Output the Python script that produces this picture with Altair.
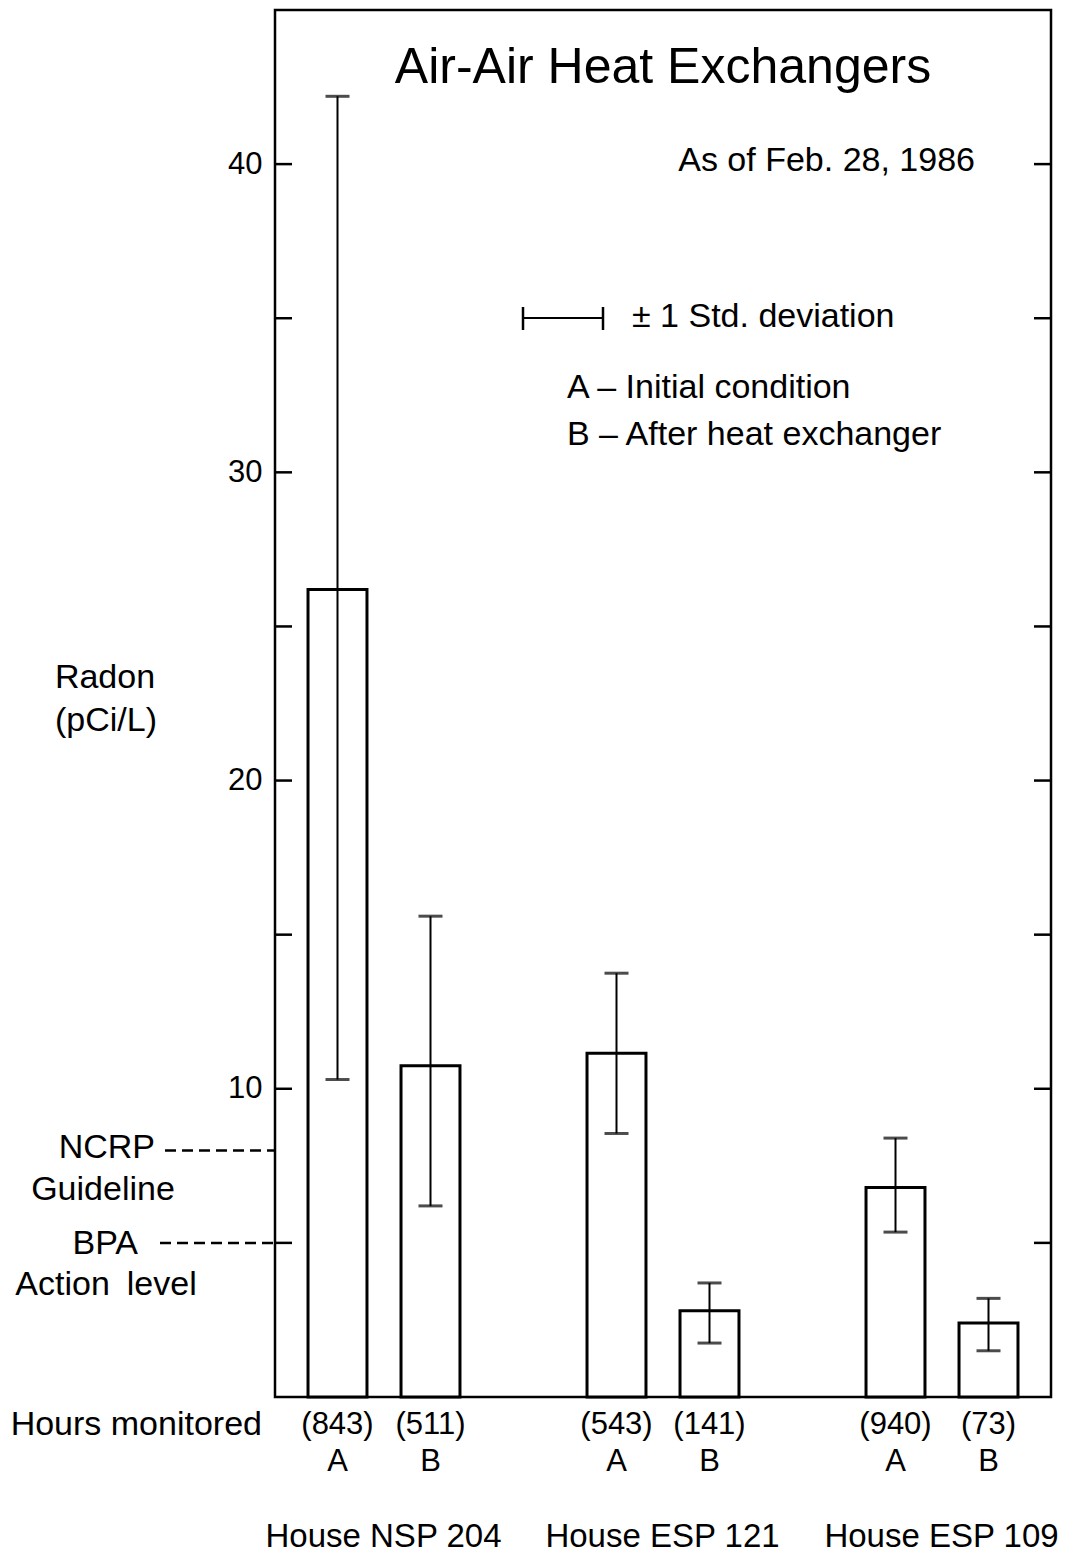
import altair as alt
import pandas as pd

FONT = "Liberation Sans"

# ---- data ----
slots = ["NSP 204 A", "NSP 204 B", "gap 1", "ESP 121 A", "ESP 121 B", "gap 2", "ESP 109 A", "ESP 109 B"]
bar_slots = ["NSP 204 A", "NSP 204 B", "ESP 121 A", "ESP 121 B", "ESP 109 A", "ESP 109 B"]
condition = ["A", "B", "A", "B", "A", "B"]
radon_mean = [26.2, 10.75, 11.15, 2.8, 6.8, 2.4]
radon_lo = [10.3, 6.2, 8.55, 1.75, 5.35, 1.5]
radon_hi = [42.2, 15.6, 13.75, 3.7, 8.4, 3.2]
hours = ["(843)", "(511)", "(543)", "(141)", "(940)", "(73)"]
houses = ["House NSP 204", "House ESP 121", "House ESP 109"]
house_anchor = ["NSP 204 A", "ESP 121 A", "ESP 109 A"]
tick_values = [5, 10, 15, 20, 25, 30, 35, 40]
label_values = [10, 20, 30, 40]
ncrp_level = 8
bpa_level = 5

df = pd.DataFrame({"slot": bar_slots, "cond": condition, "mean": radon_mean,
                   "lo": radon_lo, "hi": radon_hi, "hours": hours})
hdf = pd.DataFrame({"house": houses, "slot": house_anchor})
tdf = pd.DataFrame({"v": tick_values})
one = pd.DataFrame({"k": [0]})

W, H = 776, 1387

xscale = alt.Scale(domain=slots, paddingInner=0.366, paddingOuter=0.355)
yscale = alt.Scale(domain=[0, 45], nice=False, zero=True)

def X():
    return alt.X("slot:N", scale=xscale, axis=None)

yaxis = alt.Axis(values=label_values, ticks=False, domain=False, grid=False,
                 labelFontSize=31, labelPadding=13, labelColor="black",
                 labelFont=FONT, title=None)

bars = alt.Chart(df).mark_bar(fill="white", stroke="black", strokeWidth=3).encode(
    x=X(), y=alt.Y("mean:Q", scale=yscale, axis=yaxis))

err = alt.Chart(df).mark_rule(color="black", strokeWidth=2).encode(
    x=X(), y=alt.Y("lo:Q", scale=yscale), y2="hi:Q")
cap_lo = alt.Chart(df).mark_tick(color="black", size=24, thickness=3).encode(
    x=X(), y=alt.Y("lo:Q", scale=yscale))
cap_hi = alt.Chart(df).mark_tick(color="black", size=24, thickness=3).encode(
    x=X(), y=alt.Y("hi:Q", scale=yscale))

lticks = alt.Chart(tdf).mark_rule(color="black", strokeWidth=2.5).encode(
    y=alt.Y("v:Q", scale=yscale), x=alt.value(0), x2=alt.value(17))
rticks = alt.Chart(tdf).mark_rule(color="black", strokeWidth=2.5).encode(
    y=alt.Y("v:Q", scale=yscale), x=alt.value(W - 17), x2=alt.value(W))

ncrp = alt.Chart(one).mark_rule(color="black", strokeWidth=2.5, strokeDash=[11, 6]).encode(
    y=alt.datum(ncrp_level, scale=yscale), x=alt.value(-110), x2=alt.value(0))
bpa = alt.Chart(one).mark_rule(color="black", strokeWidth=2.5, strokeDash=[11, 6]).encode(
    y=alt.datum(bpa_level, scale=yscale), x=alt.value(-115), x2=alt.value(0))

hours_txt = alt.Chart(df).mark_text(font=FONT, fontSize=31, baseline="middle", color="black").encode(
    x=X(), y=alt.value(1415), text="hours:N")
cond_txt = alt.Chart(df).mark_text(font=FONT, fontSize=31, baseline="middle", color="black").encode(
    x=X(), y=alt.value(1452), text="cond:N")
house_txt = alt.Chart(hdf).mark_text(font=FONT, fontSize=33, baseline="middle", color="black", dx=46).encode(
    x=X(), y=alt.value(1527), text="house:N")

def label(text, x, y, size=34, align="left"):
    return alt.Chart(one).mark_text(text=text, font=FONT, fontSize=size, align=align,
                                    baseline="middle", color="black").encode(
        x=alt.value(x), y=alt.value(y))

texts = [
    label("Air-Air Heat Exchangers", 388, 58, size=50, align="center"),
    label("As of Feb. 28, 1986", 700, 151, align="right"),
    label("± 1 Std. deviation", 357, 307),
    label("A – Initial condition", 292, 378),
    label("B – After heat exchanger", 292, 425),
    label("Radon", -170, 668, align="center"),
    label("(pCi/L)", -169, 711, align="center"),
    label("NCRP", -120, 1138, align="right"),
    label("Guideline", -172, 1180, align="center"),
    label("BPA", -137, 1234, align="right"),
    label("Action\u2002level", -169, 1275, align="center"),
    label("Hours monitored", -13, 1415, align="right"),
]

# legend symbol for the error bar
leg_line = alt.Chart(one).mark_rule(color="black", strokeWidth=2).encode(
    x=alt.value(248), x2=alt.value(328), y=alt.value(308))
leg_cap1 = alt.Chart(one).mark_rule(color="black", strokeWidth=2.5).encode(
    x=alt.value(248), y=alt.value(297), y2=alt.value(320))
leg_cap2 = alt.Chart(one).mark_rule(color="black", strokeWidth=2.5).encode(
    x=alt.value(328), y=alt.value(297), y2=alt.value(320))

chart = alt.layer(
    bars, err, cap_lo, cap_hi, lticks, rticks, ncrp, bpa,
    hours_txt, cond_txt, house_txt, leg_line, leg_cap1, leg_cap2, *texts
).properties(
    width=W, height=H,
    autosize=alt.AutoSizeParams(type="none"),
    padding={"left": 267, "top": 2, "right": 11, "bottom": 160},
    background="white",
).configure_view(stroke="black", strokeWidth=2.5)

chart.save("out.html", embed_options={"renderer": "svg", "actions": False})
